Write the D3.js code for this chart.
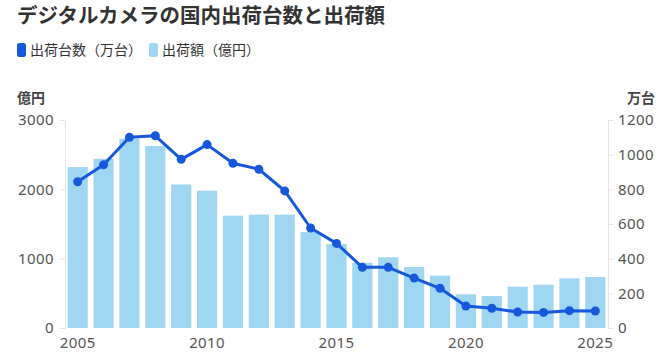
<!DOCTYPE html>
<html>
<head>
<meta charset="utf-8">
<script src="https://cdn.jsdelivr.net/npm/d3@7"></script>
<style>
  body { margin: 0; background: #fff; font-family: "Noto Sans CJK JP", "Noto Sans", sans-serif; }
</style>
</head>
<body>
<div id="chart"></div>
<script>
// Years, shipment amount (億円, bars) and unit count (万台, line)
const years = d3.range(2005, 2026);
const amounts = [2320, 2440, 2730, 2625, 2070, 1980, 1620, 1635, 1635, 1385, 1210, 940, 1020, 880, 755, 486, 461, 596, 625, 716, 736];
const units = [844, 942, 1100, 1109, 973, 1058, 950, 916, 791, 577, 488, 350, 350, 288, 229, 127, 114, 92, 90, 100, 98];
const leftTicks = [0, 1000, 2000, 3000];
const rightTicks = [0, 200, 400, 600, 800, 1000, 1200];
const yearTicks = [2005, 2010, 2015, 2020, 2025];

const svgWidth = 669, svgHeight = 358;
const margin = { top: 120, right: 61, bottom: 30, left: 65 };
const chartWidth = svgWidth - margin.left - margin.right;
const chartHeight = svgHeight - margin.top - margin.bottom;

const barColor = '#9fd7f2';
const lineColor = '#1558dc';
const axisColor = '#e4e4e4';
const textColor = '#555';

let svg = d3.select('#chart')
  .append('svg')
  .attr('width', svgWidth)
  .attr('height', svgHeight);

// Title
svg.append('text')
  .attr('x', 17)
  .attr('y', 23)
  .style('font-size', '20.5px')
  .style('font-weight', 'bold')
  .style('fill', '#333')
  .text('デジタルカメラの国内出荷台数と出荷額');

// Legend
const legendItems = [
  { label: '出荷台数（万台）', color: lineColor, x: 17 },
  { label: '出荷額（億円）', color: barColor, x: 149 }
];
legendItems.forEach(item => {
  svg.append('rect')
    .attr('x', item.x)
    .attr('y', 43)
    .attr('width', 9)
    .attr('height', 14)
    .attr('rx', 2.5)
    .attr('fill', item.color);
  svg.append('text')
    .attr('x', item.x + 13)
    .attr('y', 55)
    .style('font-size', '14px')
    .style('fill', '#333')
    .text(item.label);
});

// Unit labels
svg.append('text')
  .attr('x', 17)
  .attr('y', 103)
  .style('font-size', '14px')
  .style('font-weight', 'bold')
  .style('fill', '#444')
  .text('億円');

svg.append('text')
  .attr('x', 655)
  .attr('y', 103)
  .attr('text-anchor', 'end')
  .style('font-size', '14px')
  .style('font-weight', 'bold')
  .style('fill', '#444')
  .text('万台');

let chart = svg.append('g')
  .attr('transform', `translate(${margin.left}, ${margin.top})`);

// Scales
let xScale = d3.scaleBand()
  .domain(years)
  .range([0, chartWidth])
  .paddingInner(0.22)
  .paddingOuter(0.1);

let yLeft = d3.scaleLinear().domain([0, 3000]).range([chartHeight, 0]);
let yRight = d3.scaleLinear().domain([0, 1200]).range([chartHeight, 0]);

// Axes
let leftAxis = chart.append('g')
  .call(d3.axisLeft(yLeft).tickValues(leftTicks).tickFormat(d3.format('d')).tickSize(5).tickPadding(6));
let rightAxis = chart.append('g')
  .attr('transform', `translate(${chartWidth}, 0)`)
  .call(d3.axisRight(yRight).tickValues(rightTicks).tickFormat(d3.format('d')).tickSize(5).tickPadding(5));
let bottomAxis = chart.append('g')
  .attr('transform', `translate(0, ${chartHeight})`)
  .call(d3.axisBottom(xScale).tickValues(yearTicks).tickFormat(d3.format('d')).tickSize(0).tickPadding(9));

[leftAxis, rightAxis, bottomAxis].forEach(ax => {
  ax.selectAll('path, line').attr('stroke', axisColor);
  ax.selectAll('text')
    .style('font-family', '"Noto Sans", sans-serif')
    .style('font-size', '15px')
    .style('letter-spacing', '0.4px')
    .style('fill', textColor);
});
bottomAxis.select('.domain').remove();

// Bars
chart.selectAll('rect.bar')
  .data(years)
  .enter()
  .append('rect')
  .attr('class', 'bar')
  .attr('x', d => xScale(d))
  .attr('y', (d, i) => yLeft(amounts[i]))
  .attr('width', xScale.bandwidth())
  .attr('height', (d, i) => chartHeight - yLeft(amounts[i]))
  .attr('fill', barColor);

// Line
const cx = d => xScale(d) + xScale.bandwidth() / 2;
let line = d3.line()
  .x((d, i) => cx(years[i]))
  .y(d => yRight(d));

chart.append('path')
  .datum(units)
  .attr('d', line)
  .attr('fill', 'none')
  .attr('stroke', lineColor)
  .attr('stroke-width', 3)
  .attr('stroke-linejoin', 'round');

chart.selectAll('circle')
  .data(units)
  .enter()
  .append('circle')
  .attr('cx', (d, i) => cx(years[i]))
  .attr('cy', d => yRight(d))
  .attr('r', 4.5)
  .attr('fill', lineColor);
</script>
</body>
</html>
